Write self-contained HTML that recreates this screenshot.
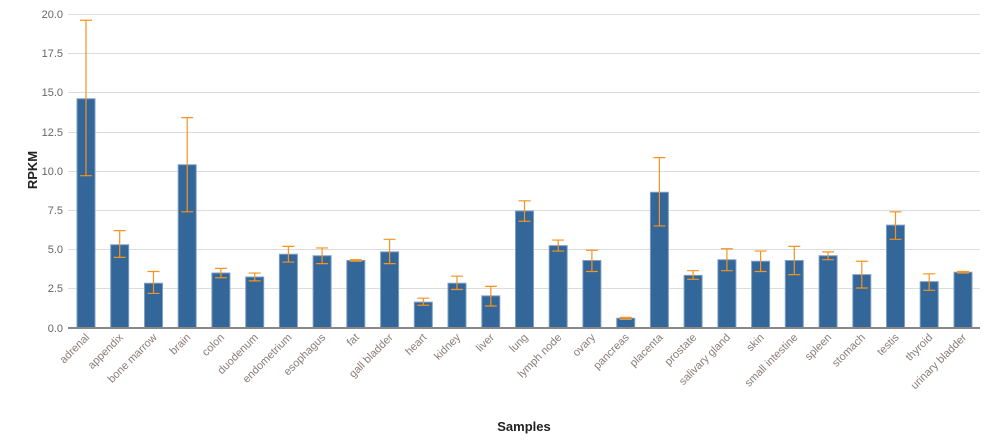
<!DOCTYPE html>
<html><head><meta charset="utf-8"><style>
html,body{margin:0;padding:0;background:#fff}
svg{display:block;font-family:"Liberation Sans",Arial,sans-serif}
.t{font-size:11px;fill:#666}
.l{font-size:11px;fill:#8a7c78}
</style></head><body>
<svg width="987" height="444" viewBox="0 0 987 444">
<g stroke="#dcdcdc" stroke-width="1">
<line x1="68" x2="980" y1="14.5" y2="14.5"/><line x1="68" x2="980" y1="53.5" y2="53.5"/><line x1="68" x2="980" y1="92.5" y2="92.5"/><line x1="68" x2="980" y1="132.5" y2="132.5"/><line x1="68" x2="980" y1="171.5" y2="171.5"/><line x1="68" x2="980" y1="210.5" y2="210.5"/><line x1="68" x2="980" y1="249.5" y2="249.5"/><line x1="68" x2="980" y1="288.5" y2="288.5"/>
</g>
<g class="t" text-anchor="end">
<text x="63" y="18">20.0</text><text x="63" y="57">17.5</text><text x="63" y="96">15.0</text><text x="63" y="136">12.5</text><text x="63" y="175">10.0</text><text x="63" y="214">7.5</text><text x="63" y="253">5.0</text><text x="63" y="292">2.5</text><text x="63" y="332">0.0</text>
</g>
<g transform="translate(0,328) scale(1,-15.7)" fill="#336699" stroke="#7d9fc4" stroke-width="1">
<g vector-effect="non-scaling-stroke">
<rect x="77" y="0" width="18" height="14.6" vector-effect="non-scaling-stroke"/>
<rect x="110.7" y="0" width="18" height="5.3" vector-effect="non-scaling-stroke"/>
<rect x="144.5" y="0" width="18" height="2.85" vector-effect="non-scaling-stroke"/>
<rect x="178.2" y="0" width="18" height="10.4" vector-effect="non-scaling-stroke"/>
<rect x="211.9" y="0" width="18" height="3.5" vector-effect="non-scaling-stroke"/>
<rect x="245.7" y="0" width="18" height="3.25" vector-effect="non-scaling-stroke"/>
<rect x="279.4" y="0" width="18" height="4.7" vector-effect="non-scaling-stroke"/>
<rect x="313.1" y="0" width="18" height="4.6" vector-effect="non-scaling-stroke"/>
<rect x="346.8" y="0" width="18" height="4.3" vector-effect="non-scaling-stroke"/>
<rect x="380.6" y="0" width="18" height="4.85" vector-effect="non-scaling-stroke"/>
<rect x="414.3" y="0" width="18" height="1.65" vector-effect="non-scaling-stroke"/>
<rect x="448" y="0" width="18" height="2.85" vector-effect="non-scaling-stroke"/>
<rect x="481.8" y="0" width="18" height="2.05" vector-effect="non-scaling-stroke"/>
<rect x="515.5" y="0" width="18" height="7.45" vector-effect="non-scaling-stroke"/>
<rect x="549.2" y="0" width="18" height="5.25" vector-effect="non-scaling-stroke"/>
<rect x="582.9" y="0" width="18" height="4.3" vector-effect="non-scaling-stroke"/>
<rect x="616.7" y="0" width="18" height="0.62" vector-effect="non-scaling-stroke"/>
<rect x="650.4" y="0" width="18" height="8.65" vector-effect="non-scaling-stroke"/>
<rect x="684.1" y="0" width="18" height="3.35" vector-effect="non-scaling-stroke"/>
<rect x="717.9" y="0" width="18" height="4.35" vector-effect="non-scaling-stroke"/>
<rect x="751.6" y="0" width="18" height="4.25" vector-effect="non-scaling-stroke"/>
<rect x="785.3" y="0" width="18" height="4.3" vector-effect="non-scaling-stroke"/>
<rect x="819.1" y="0" width="18" height="4.6" vector-effect="non-scaling-stroke"/>
<rect x="852.8" y="0" width="18" height="3.4" vector-effect="non-scaling-stroke"/>
<rect x="886.5" y="0" width="18" height="6.55" vector-effect="non-scaling-stroke"/>
<rect x="920.2" y="0" width="18" height="2.95" vector-effect="non-scaling-stroke"/>
<rect x="954" y="0" width="18" height="3.55" vector-effect="non-scaling-stroke"/>
</g>
<path fill="none" stroke="#f7931e" stroke-width="1.2" vector-effect="non-scaling-stroke" d="
M86 9.7V19.6M80 9.7H92M80 19.6H92
M119.7 4.5V6.2M113.7 4.5H125.7M113.7 6.2H125.7
M153.5 2.2V3.6M147.5 2.2H159.5M147.5 3.6H159.5
M187.2 7.4V13.4M181.2 7.4H193.2M181.2 13.4H193.2
M220.9 3.2V3.8M214.9 3.2H226.9M214.9 3.8H226.9
M254.7 3.0V3.5M248.7 3.0H260.7M248.7 3.5H260.7
M288.4 4.2V5.2M282.4 4.2H294.4M282.4 5.2H294.4
M322.1 4.1V5.1M316.1 4.1H328.1M316.1 5.1H328.1
M355.8 4.25V4.35M349.8 4.25H361.8M349.8 4.35H361.8
M389.6 4.1V5.65M383.6 4.1H395.6M383.6 5.65H395.6
M423.3 1.45V1.9M417.3 1.45H429.3M417.3 1.9H429.3
M457 2.45V3.3M451 2.45H463M451 3.3H463
M490.8 1.4V2.65M484.8 1.4H496.8M484.8 2.65H496.8
M524.5 6.8V8.1M518.5 6.8H530.5M518.5 8.1H530.5
M558.2 4.9V5.6M552.2 4.9H564.2M552.2 5.6H564.2
M591.9 3.6V4.95M585.9 3.6H597.9M585.9 4.95H597.9
M625.7 0.55V0.68M619.7 0.55H631.7M619.7 0.68H631.7
M659.4 6.5V10.85M653.4 6.5H665.4M653.4 10.85H665.4
M693.1 3.1V3.65M687.1 3.1H699.1M687.1 3.65H699.1
M726.9 3.65V5.05M720.9 3.65H732.9M720.9 5.05H732.9
M760.6 3.6V4.9M754.6 3.6H766.6M754.6 4.9H766.6
M794.3 3.4V5.2M788.3 3.4H800.3M788.3 5.2H800.3
M828.1 4.35V4.85M822.1 4.35H834.1M822.1 4.85H834.1
M861.8 2.55V4.25M855.8 2.55H867.8M855.8 4.25H867.8
M895.5 5.65V7.4M889.5 5.65H901.5M889.5 7.4H901.5
M929.2 2.4V3.45M923.2 2.4H935.2M923.2 3.45H935.2
M963 3.5V3.6M957 3.5H969M957 3.6H969"/>
</g>
<line x1="68" x2="980" y1="328" y2="328" stroke="#888" stroke-width="2"/>
<g class="l" text-anchor="end">
<text transform="translate(90,338) rotate(-45)">adrenal</text>
<text transform="translate(123.7,338) rotate(-45)">appendix</text>
<text transform="translate(157.5,338) rotate(-45)">bone marrow</text>
<text transform="translate(191.2,338) rotate(-45)">brain</text>
<text transform="translate(224.9,338) rotate(-45)">colon</text>
<text transform="translate(258.7,338) rotate(-45)">duodenum</text>
<text transform="translate(292.4,338) rotate(-45)">endometrium</text>
<text transform="translate(326.1,338) rotate(-45)">esophagus</text>
<text transform="translate(359.8,338) rotate(-45)">fat</text>
<text transform="translate(393.6,338) rotate(-45)">gall bladder</text>
<text transform="translate(427.3,338) rotate(-45)">heart</text>
<text transform="translate(461,338) rotate(-45)">kidney</text>
<text transform="translate(494.8,338) rotate(-45)">liver</text>
<text transform="translate(528.5,338) rotate(-45)">lung</text>
<text transform="translate(562.2,338) rotate(-45)">lymph node</text>
<text transform="translate(595.9,338) rotate(-45)">ovary</text>
<text transform="translate(629.7,338) rotate(-45)">pancreas</text>
<text transform="translate(663.4,338) rotate(-45)">placenta</text>
<text transform="translate(697.1,338) rotate(-45)">prostate</text>
<text transform="translate(730.9,338) rotate(-45)">salivary gland</text>
<text transform="translate(764.6,338) rotate(-45)">skin</text>
<text transform="translate(798.3,338) rotate(-45)">small intestine</text>
<text transform="translate(832.1,338) rotate(-45)">spleen</text>
<text transform="translate(865.8,338) rotate(-45)">stomach</text>
<text transform="translate(899.5,338) rotate(-45)">testis</text>
<text transform="translate(933.2,338) rotate(-45)">thyroid</text>
<text transform="translate(967,338) rotate(-45)">urinary bladder</text>
</g>
<text transform="translate(37,170) rotate(-90)" text-anchor="middle" font-size="13" font-weight="bold" fill="#222">RPKM</text>
<text x="524" y="431" text-anchor="middle" font-size="13" font-weight="bold" fill="#222">Samples</text>
</svg>
</body></html>
